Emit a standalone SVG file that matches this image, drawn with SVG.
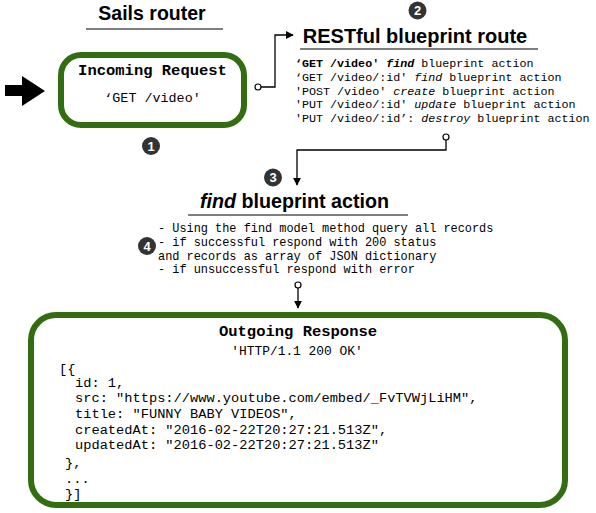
<svg xmlns="http://www.w3.org/2000/svg" width="596" height="513" viewBox="0 0 596 513">
<defs>
<style>
.title{font-family:"Liberation Sans",Arial,sans-serif;font-weight:bold;fill:#000}
.mono{font-family:"Liberation Mono","Courier New",monospace;fill:#000}
.b{font-weight:bold}
.i{font-style:italic}
.box{fill:#fff;stroke:#336d12;stroke-width:6}
.rule{stroke:#000;stroke-width:1.2}
.badge circle{fill:#333}
.badge text{font-family:"Liberation Sans",Arial,sans-serif;font-weight:bold;font-size:13px;fill:#fff;text-anchor:middle}
.conn{fill:none;stroke:#000;stroke-width:1.3}
.dot{fill:#fff;stroke:#000;stroke-width:1.2}
</style>
<marker id="ah" viewBox="0 0 10 10" refX="9" refY="5" markerWidth="8" markerHeight="8" markerUnits="userSpaceOnUse" orient="auto">
<path d="M0,0 L10,5 L0,10 z" fill="#000"/>
</marker>
</defs>

<g id="sails-router-title">
<text class="title" x="152" y="20" font-size="19.5" text-anchor="middle">Sails router</text>
<line class="rule" x1="86" y1="29" x2="223" y2="29"/>
</g>

<g id="input-arrow">
<path d="M5,85 H22 V76 L45,91 L22,106 V96 H5 z" fill="#000"/>
</g>

<g id="incoming-request">
<rect class="box" x="61" y="55" width="183" height="70" rx="20"/>
<text class="mono b" x="152.5" y="75" font-size="15.5" text-anchor="middle">Incoming Request</text>
<text class="mono" x="152.5" y="102" font-size="13.4" text-anchor="middle">‘GET /video'</text>
</g>

<g id="badge-1" class="badge"><circle cx="151" cy="146" r="9"/><text x="151" y="150.5">1</text></g>
<g id="badge-2" class="badge"><circle cx="417.5" cy="10.5" r="9"/><text x="417.5" y="15">2</text></g>
<g id="badge-3" class="badge"><circle cx="273" cy="177.5" r="9"/><text x="273" y="182">3</text></g>
<g id="badge-4" class="badge"><circle cx="147" cy="246" r="9"/><text x="147" y="250.5">4</text></g>

<g id="restful-route">
<text class="title" x="415" y="43" font-size="20" text-anchor="middle">RESTful blueprint route</text>
<line class="rule" x1="300" y1="49" x2="538" y2="49"/>
<g class="mono" font-size="11.7">
<text x="295" y="67"><tspan class="b">‘GET /video'</tspan> <tspan class="b i">find</tspan> blueprint action</text>
<text x="295" y="81">‘GET /video/:id' <tspan class="i">find</tspan> blueprint action</text>
<text x="295" y="95">'POST /video' <tspan class="i">create</tspan> blueprint action</text>
<text x="295" y="108">'PUT /video/:id' <tspan class="i">update</tspan> blueprint action</text>
<text x="295" y="122">'PUT /video/:id’: <tspan class="i">destroy</tspan> blueprint action</text>
</g>
</g>

<g id="find-action">
<text class="title" x="294.5" y="208" font-size="19.7" text-anchor="middle"><tspan class="i">find</tspan> blueprint action</text>
<line class="rule" x1="188" y1="215" x2="408" y2="215"/>
<g class="mono" font-size="11.9">
<text x="158" y="232">- Using the find model method query all records</text>
<text x="158" y="246">- if successful respond with 200 status</text>
<text x="158" y="260">and records as array of JSON dictionary</text>
<text x="158" y="273">- if unsuccessful respond with error</text>
</g>
</g>

<g id="outgoing-response">
<rect class="box" x="31" y="315" width="534" height="190" rx="25"/>
<text class="mono b" x="298" y="336" font-size="15.5" text-anchor="middle">Outgoing Response</text>
<text class="mono" x="297" y="355" font-size="12.9" text-anchor="middle">'HTTP/1.1 200 OK'</text>
<g class="mono" font-size="13.7">
<text x="59" y="373">[{</text>
<text x="75" y="387">id: 1,</text>
<text x="75" y="402">src: "https://www.youtube.com/embed/_FvTVWjLiHM",</text>
<text x="75" y="418">title: "FUNNY BABY VIDEOS",</text>
<text x="75" y="434">createdAt: "2016-02-22T20:27:21.513Z",</text>
<text x="75" y="449">updatedAt: "2016-02-22T20:27:21.513Z"</text>
<text x="65" y="467">},</text>
<text x="65" y="483">...</text>
<text x="65" y="498">}]</text>
</g>
</g>

<g id="connectors">
<path class="conn" d="M261,87 H275 V35 H293" marker-end="url(#ah)"/>
<circle class="dot" cx="258" cy="87" r="3"/>
<path class="conn" d="M446,140 V150 H297 V185" marker-end="url(#ah)"/>
<circle class="dot" cx="446" cy="137" r="3"/>
<path class="conn" d="M298,288 V308" marker-end="url(#ah)"/>
<circle class="dot" cx="298" cy="285" r="3"/>
</g>
</svg>
